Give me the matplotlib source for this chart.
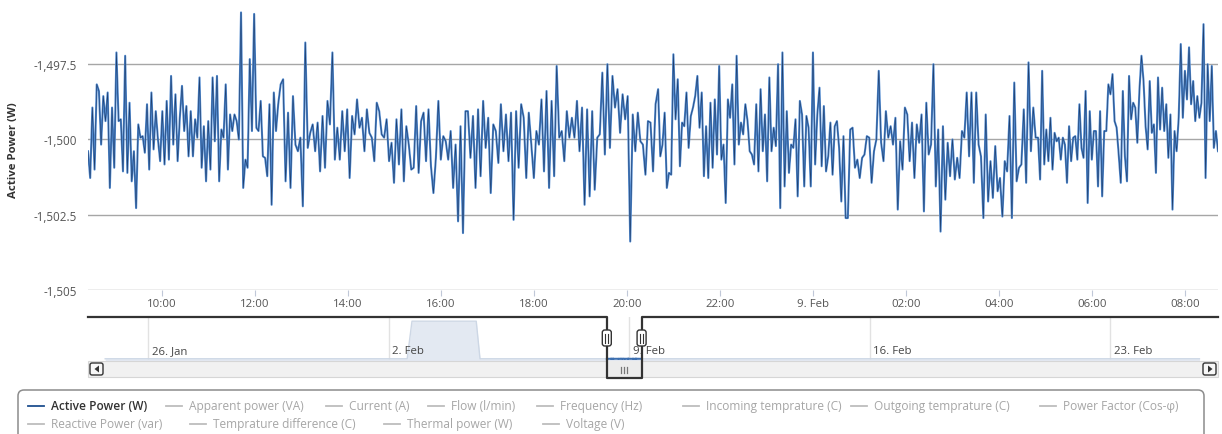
import numpy as np
import matplotlib.pyplot as plt
from matplotlib.patches import FancyBboxPatch, Rectangle, Polygon
from matplotlib.lines import Line2D

plt.rcParams['font.family'] = ['Open Sans', 'DejaVu Sans']

W, H = 1222, 435

# Active power readings, offsets from -1500 W, read in six ~4 h windows
seg_start_h = [8.41, 12.50, 16.58, 20.67, 24.75, 28.84]   # hours since 8 Feb 00:00
seg_end_h = 32.71
base_w = -1500.0

seg1 = [-0.39, -1.28, 1.06, -1.0, 1.83, 1.61, -0.17, 1.44, 0.61, 1.56, -1.61, 1.06, -0.94, 2.89,
        0.61, 0.67, -1.06, 2.78, -1.11, 1.22, -1.39, -0.39, -2.28, 0.5, 0.06, 0.11, -0.44, 1.17,
        -1.0, 1.56, -0.33, 0.94, 0.0, -0.72, 0.94, -0.83, 1.28, -0.67, 2.11, -0.17, 1.5, -0.72,
        0.72, 1.78, 0.28, 1.11, -0.56, 0.94, -0.56, 0.67, 0.06, 2.06, -0.94, 0.44, -1.39, 0.61,
        -1.0, 2.06, -0.06, 2.11, -1.39, 0.33, 0.06, 1.83, -1.0, 0.83, 0.28, 0.83, 0.61, 0.0, 4.22,
        -1.61, -0.67, -0.94, 2.67, 0.28, 4.17, 0.39, 0.28, 1.28, -0.56, -0.61, -1.22, 1.17, -2.17,
        1.56, 0.28]
seg2 = [1.17, 1.83, 2.0, -1.39, 0.89, -1.61, 1.44, -0.17, -0.39, 0.06, -2.22, 3.22, -0.28, 0.22,
        0.5, -0.39, 0.56, -1.06, 0.78, -0.94, 1.28, 0.5, 2.89, -0.67, 0.39, -0.67, 0.94, -0.39,
        1.0, -1.28, 0.78, 0.17, 1.33, 0.39, 0.72, -0.39, 1.0, 0.22, 0.06, -0.72, 1.22, 0.94, 0.17,
        0.06, 0.67, -0.72, -0.11, -1.44, 0.67, -0.83, 1.0, -1.39, 0.44, -0.17, -1.0, -0.94, 1.11,
        -1.11, 0.61, 0.89, -0.72, 1.0, -0.89, -1.78, -0.61, 1.28, -0.67, 0.11, -0.06, -0.67, 0.28,
        -1.61, -0.17, -2.72, 0.44, -3.11, 0.94]
seg3 = [0.94, -0.61, 0.78, -1.61, 1.0, -1.22, 1.28, -0.28, 0.72, -1.78, 0.5, 0.28, -0.78, 1.17,
        -0.39, 0.83, -0.72, 0.89, -2.67, 0.94, -0.94, 1.17, 0.72, -1.28, 0.89, -0.17, -1.28, 0.28,
        -0.17, 1.33, -1.06, 1.61, -1.61, 1.28, -1.22, 2.44, 0.06, 0.28, -0.72, 0.94, 0.06, 0.72,
        0.06, 1.28, -0.39, 1.06, -2.17, 1.0, -1.89, 0.94, -1.67, 0.06, 0.17, 2.22, -0.5, 2.5,
        -0.28, 2.11, 1.06, 1.67, 0.22, 1.5, 0.67, 1.44, -3.39, 0.83, -0.39, 0.89, -0.06, -0.17,
        -1.17, 0.61, 0.56, -1.06, 1.17]
seg4 = [1.67, -0.56, -0.17, 0.89, -1.61, -1.11, -1.17, 2.83, 0.67, 2.0, -0.89, 0.56, 0.44, 1.56,
        -0.28, 0.78, 1.06, 1.44, 2.11, 0.39, 1.56, -1.22, 0.44, -1.28, 1.22, -0.94, 1.33, -0.5,
        2.44, -0.67, -0.17, -2.11, 1.33, 0.72, 1.83, -0.83, 2.78, -0.17, 0.56, 0.17, 1.17, 0.61,
        -0.39, -0.5, -0.83, 1.17, -1.06, 1.67, -0.39, 0.83, -1.39, 2.06, -0.39, 0.39, -0.22, 2.5,
        -2.28, 2.89, -1.56, 0.94, -1.11, -0.17, -0.28, 0.67, -1.89, 1.28, 0.83, -1.56, 0.78, 0.39,
        -1.56, 2.89, -0.83, 0.83, 1.72, -0.89, 1.11, -1.06, -0.56, 0.56, -1.17, 0.44, 0.61, -0.28,
        -2.06, 0.11, -2.61]
seg5 = [-2.61, 0.33, 0.39, -0.94, -0.67, -1.28, -0.61, -0.5, 0.11, 0.06, -1.44, -0.39, 0.0, 2.28,
        -0.11, -0.72, 0.94, 0.06, 0.44, -0.17, 0.72, -2.33, -0.06, -1.0, 1.06, 0.83, -0.72, 0.56,
        -1.28, 0.5, -0.11, 0.83, -2.39, 1.22, -0.5, -0.17, 2.5, -1.56, 0.33, -3.06, 0.44, -2.0,
        -0.11, -1.22, 0.0, -1.33, -0.61, -1.28, 0.28, 0.06, 1.56, -0.56, 1.56, -1.44, 1.56, -0.17,
        -0.56, -2.61, 0.83, -2.06, -0.72, -1.94, -0.22, -1.72, -1.28, -2.56, -0.72, -1.06, 0.78,
        -2.61, 1.89, -1.39, -0.94, -0.83, 1.0, -1.44, 2.56, -0.39, 1.06, 0.06]
seg6 = [0.06, -1.33, 2.28, -0.83, 0.33, -0.72, 0.72, -1.0, 0.22, -0.06, 0.06, -0.67, 0.06, -0.17,
        -1.44, 0.44, -0.72, 0.06, 0.11, -0.67, 1.17, -0.28, -0.61, 1.61, -2.11, 0.94, -0.67, 0.28,
        0.28, -1.56, 0.94, -1.89, 0.28, 0.28, 1.83, 1.5, 2.17, 0.61, 0.39, -0.5, -1.44, 1.61, -0.56,
        -1.39, 2.11, 0.67, 1.22, 1.06, -0.11, 1.61, 2.78, 1.94, 0.44, -0.33, 1.94, 0.22, 0.5, -1.11,
        2.06, 0.33, 1.72, 0.28, 1.17, -0.61, 0.83, -2.33, 0.28, -0.39, 0.72, 3.17, 0.72, 2.28, 1.33,
        3.06, 1.17, 1.94, 0.61, 1.44, 0.72, 1.22, 3.83, -1.28, 2.5, 0.61, 2.44, -0.28, 0.28, -0.39]
seg_values = [seg1, seg2, seg3, seg4, seg5, seg6]

x_ticks_h = [10, 12, 14, 16, 18, 20, 22, 24, 26, 28, 30, 32]
x_tick_labels = ["10:00", "12:00", "14:00", "16:00", "18:00", "20:00", "22:00", "9. Feb",
                 "02:00", "04:00", "06:00", "08:00"]
y_ticks = [-1505, -1502.5, -1500, -1497.5]
y_lim = (-1505, -1495.6)

# navigator (day of year)
nav_days = [24.75, 33.54, 33.68, 35.55, 35.66, 56.6]
nav_values = [-1500, -1500, -150, -150, -1500, -1500]
nav_ticks = [26, 33, 40, 47, 54]
nav_tick_labels = ["26. Jan", "2. Feb", "9. Feb", "16. Feb", "23. Feb"]
nav_xlim = (24.25, 57.14)
nav_ylim = (-1580, 0)
day_8feb = 39

legend_labels = ["Active Power (W)", "Apparent power (VA)", "Current (A)", "Flow (l/min)",
                 "Frequency (Hz)", "Incoming temprature (C)", "Outgoing temprature (C)",
                 "Power Factor (Cos-φ)", "Reactive Power (var)", "Temprature difference (C)",
                 "Thermal power (W)", "Voltage (V)"]
legend_visible = [True] + [False] * 11

# ---- build series
t_h, power = [], []
for i, vals in enumerate(seg_values):
    t0 = seg_start_h[i]
    t1 = seg_start_h[i + 1] if i + 1 < len(seg_start_h) else seg_end_h
    n = len(vals)
    if i + 1 < len(seg_start_h):
        ts = t0 + (t1 - t0) * np.arange(n) / n
    else:
        ts = np.linspace(t0, t1, n)
    t_h.extend(ts)
    power.extend(base_w + np.array(vals))
t_h = np.array(t_h)
power = np.array(power)

fig = plt.figure(figsize=(W / 100, H / 100), dpi=100)


def px_axes(x0, y0, x1, y1):
    return fig.add_axes([x0 / W, 1 - y1 / H, (x1 - x0) / W, (y1 - y0) / H])


PL, PR = 88, 1218
grid_col = '#a6a6a6'
txt_col = '#555555'

# ---- main chart
ax = px_axes(PL, 8, PR, 291)
# light blue body with a thin navy core, like the blurred highcharts line
ax.plot(t_h, power, color='#5089cf', lw=1.5, zorder=3)
ax.plot(t_h, power, color='#1f3f6e', lw=0.45, zorder=4)
ax.set_xlim(seg_start_h[0], seg_end_h)
ax.set_ylim(*y_lim)
for s in ax.spines.values():
    s.set_visible(False)
ax.set_yticks(y_ticks)
ax.set_yticklabels([f"{v:,.1f}".rstrip('0').rstrip('.') for v in y_ticks])
ax.yaxis.grid(True, color=grid_col, lw=1.0)
ax.set_axisbelow(True)
ax.tick_params(axis='y', length=0, pad=8, labelsize=8.4, labelcolor=txt_col)
ax.set_xticks(x_ticks_h)
ax.set_xticklabels(x_tick_labels)
ax.tick_params(axis='x', length=4, width=0.8, color='#c0c8d8', pad=2, labelsize=8.2,
               labelcolor=txt_col)
fig.text(14 / W, 1 - 150 / H, "Active Power (W)", rotation=90, ha='center', va='center',
         fontsize=8.2, fontweight='bold', color='#333333')

# ---- navigator
axn = px_axes(PL, 318, PR, 362)
axn.set_xlim(*nav_xlim)
axn.set_ylim(*nav_ylim)
axn.axis('off')
for d in nav_ticks:
    axn.axvline(d, color='#e2e2e2', lw=1.0, zorder=1)
axn.fill_between(nav_days, nav_values, nav_ylim[0], color='#e3e9f2', lw=0, zorder=2)
axn.plot(nav_days, nav_values, color='#cdd7e5', lw=1.0, zorder=2)
axn.plot(day_8feb + t_h / 24, power, color='#3d6fb0', lw=1.4, zorder=3)
for d, lbl in zip(nav_ticks, nav_tick_labels):
    axn.annotate(lbl, (d, 0), xycoords=axn.get_xaxis_transform(), xytext=(2.5, 7.5),
                 textcoords='offset points', ha='left', va='center', fontsize=8.2,
                 color='#444444', zorder=4)


def nav_px(day):
    return PL + (day - nav_xlim[0]) / (nav_xlim[1] - nav_xlim[0]) * (PR - PL)


sel0 = nav_px(day_8feb + seg_start_h[0] / 24)
sel1 = nav_px(day_8feb + seg_end_h / 24)

# overlay in pixel coords for navigator / scrollbar / legend chrome
ov = fig.add_axes([0, 0, 1, 1], zorder=10)
ov.set_xlim(0, W)
ov.set_ylim(H, 0)
ov.axis('off')
ov.patch.set_alpha(0)

# scrollbar track
ov.add_patch(Rectangle((PL, 362), PR - PL, 16, facecolor='#f1f1f1', edgecolor='#d6d6d6', lw=0.8))
for bx, pts in [(90, [(99, 366.5), (99, 373.5), (94.5, 370)]),
                (1203, [(1208, 366.5), (1208, 373.5), (1212.5, 370)])]:
    ov.add_patch(FancyBboxPatch((bx, 364), 13, 12, boxstyle='round,pad=0,rounding_size=2',
                                facecolor='#f7f7f7', edgecolor='#333333', lw=1.0))
    ov.add_patch(Polygon(pts, closed=True, facecolor='#333333', edgecolor='none'))
# thumb
ov.add_patch(Rectangle((sel0, 362), sel1 - sel0, 17, facecolor='#ececec', edgecolor='none'))
mid = (sel0 + sel1) / 2
for dx in (-3, 0, 3):
    ov.add_line(Line2D([mid + dx, mid + dx], [367.5, 373.5], color='#777777', lw=0.9))

# outline
ov.add_line(Line2D([PL, sel0, sel0, sel1, sel1, PR], [318, 318, 379, 379, 318, 318],
                   color='#333333', lw=1.6, solid_joinstyle='round'))
# handles
for hx in (sel0, sel1):
    ov.add_patch(FancyBboxPatch((hx - 4.5, 331), 9, 16, boxstyle='round,pad=0,rounding_size=2.5',
                                facecolor='white', edgecolor='#333333', lw=1.0, zorder=5))
    for dx in (-1.4, 1.4):
        ov.add_line(Line2D([hx + dx, hx + dx], [334.5, 343.5], color='#333333', lw=0.8, zorder=6))

# legend box
ov.add_patch(FancyBboxPatch((18, 391), 1186, 60, boxstyle='round,pad=0,rounding_size=6',
                            facecolor='white', edgecolor='#8c8c8c', lw=1.1))
leg_x = [28, 166, 326, 428, 537, 683, 851, 1040, 28, 190, 384, 543]
leg_y = [407] * 8 + [425] * 4
for lbl, vis, lx, ly in zip(legend_labels, legend_visible, leg_x, leg_y):
    ov.add_line(Line2D([lx, lx + 16], [ly, ly], color='#1f4f8f' if vis else '#bdbdbd', lw=1.3))
    ov.text(lx + 23, ly, lbl, ha='left', va='center', fontsize=8.6,
            color='#333333' if vis else '#a6a6a6', fontweight='semibold' if vis else 'normal')

fig.savefig('out.png', dpi=100)
